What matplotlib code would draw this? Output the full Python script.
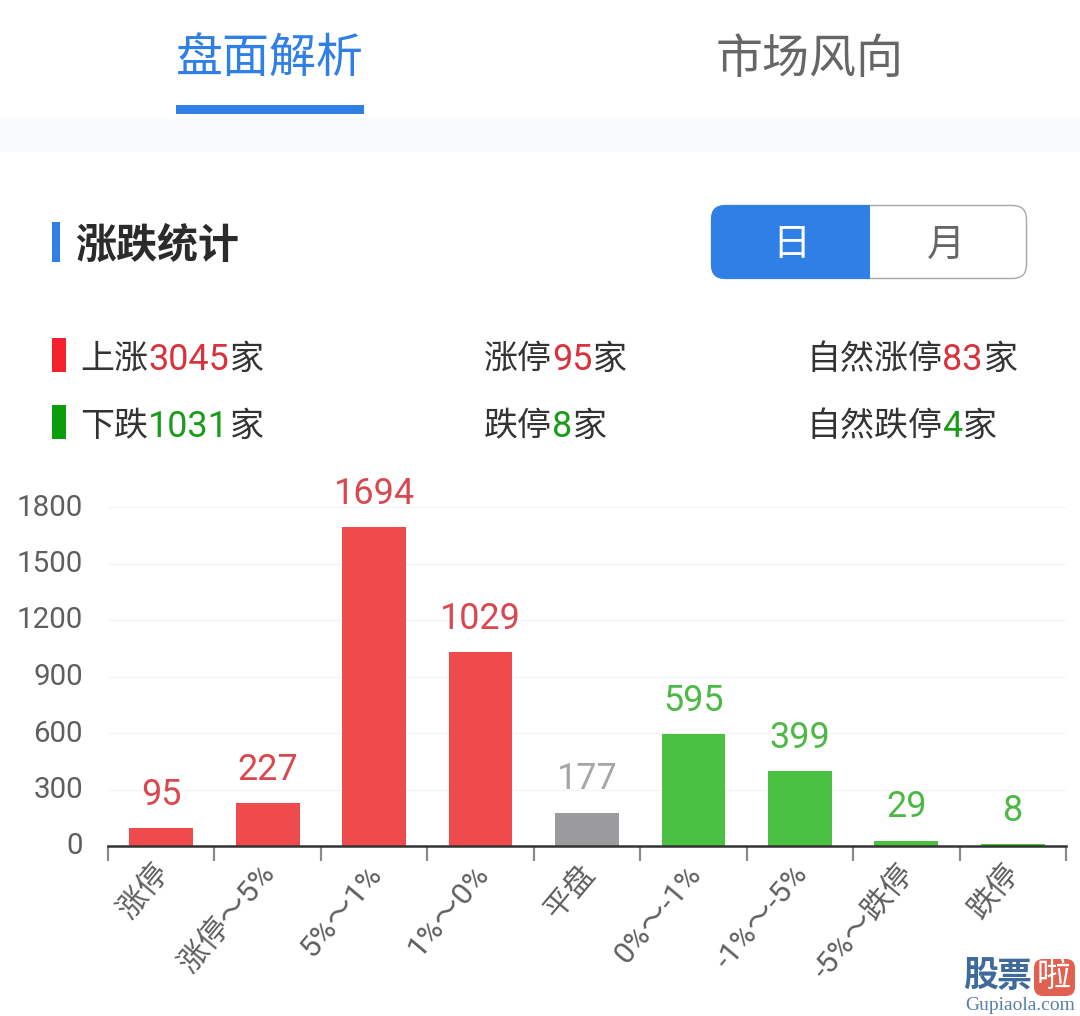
import numpy as np
from matplotlib import pyplot as plt
from matplotlib.patches import FancyBboxPatch, Rectangle, PathPatch
from matplotlib.path import Path
from matplotlib.transforms import ScaledTranslation

plt.rcParams['font.family'] = ['Roboto', 'Noto Sans CJK SC', 'DejaVu Sans']

# chart data
categories = ['涨停', '涨停～5%', '5%～1%', '1%～0%', '平盘', '0%～-1%', '-1%～-5%', '-5%～跌停', '跌停']
values = [95, 227, 1694, 1029, 177, 595, 399, 29, 8]
yticks = [0, 300, 600, 900, 1200, 1500, 1800]

# page texts
tabs = ['盘面解析', '市场风向']
title = '涨跌统计'
toggle = ['日', '月']
up_rows = [('上涨', '3045'), ('涨停', '95'), ('自然涨停', '83')]
down_rows = [('下跌', '1031'), ('跌停', '8'), ('自然跌停', '4')]
unit = '家'

# colours
BLUE = '#2f7fe6'
RED = '#ef4a4c'
GREEN = '#4bc142'
GREY = '#9b9a9d'
LABEL = '#5f5f5f'
bar_colors = [RED] * 4 + [GREY] + [GREEN] * 4
text_colors = ['#d9474f'] * 4 + ['#a6a6a6'] + ['#4cb944'] * 4

W, H = 1080, 1016
fig = plt.figure(figsize=(W / 100, H / 100), dpi=100, facecolor='white')

# full page layer in pixel coordinates
page = fig.add_axes([0, 0, 1, 1])
page.set_xlim(0, W)
page.set_ylim(H, 0)
page.axis('off')


def px(size):
    return size * 72 / 100


def rect(x0, y0, x1, y1, color):
    page.add_patch(Rectangle((x0, y0), x1 - x0, y1 - y0, facecolor=color, edgecolor='none'))


def pieces(x, y, parts, size):
    """Draw coloured text runs one after another, starting at x"""
    renderer = fig.canvas.get_renderer()
    for s, color in parts:
        digits = s.isdigit()
        t = page.text(x, y, s, color=color, fontsize=px(size + 2 if digits else size),
                      ha='left', va='center')
        box = t.get_window_extent(renderer)
        # CJK runs have to advance by the full em, digits by their own width
        x += box.width + 1 if digits else size * len(s)


# tabs
page.text(270, 60, tabs[0], color=BLUE, fontsize=px(47), ha='center', va='center')
page.text(810, 60, tabs[1], color='#666666', fontsize=px(47), ha='center', va='center')
rect(176, 105, 364, 114, BLUE)
rect(0, 118, W, 152, '#f8fbfe')

# section title
rect(52, 222, 60, 262, BLUE)
page.text(75, 246, title, color='#2b2b2b', fontsize=px(41), fontweight='bold', ha='left', va='center')

# day / month toggle
page.add_patch(FancyBboxPatch((711.5, 205.5), 315, 73, boxstyle='round,pad=0,rounding_size=14',
                              facecolor='white', edgecolor='#a8a8a8', linewidth=1))
r = 14
left_shape = Path([(870, 205), (711 + r, 205), (711, 205), (711, 205 + r), (711, 279 - r),
                   (711, 279), (711 + r, 279), (870, 279), (870, 205)],
                  [Path.MOVETO, Path.LINETO, Path.CURVE3, Path.CURVE3, Path.LINETO,
                   Path.CURVE3, Path.CURVE3, Path.LINETO, Path.CLOSEPOLY])
page.add_patch(PathPatch(left_shape, facecolor=BLUE, edgecolor='none'))
page.text(791, 245, toggle[0], color='white', fontsize=px(38), ha='center', va='center')
page.text(946, 245, toggle[1], color='#666666', fontsize=px(38), ha='center', va='center')

# summary rows
rect(52, 338, 66, 372, '#f5222d')
rect(52, 405, 66, 439, '#0a9e0a')
column_x = [80, 484, 806]
for rows, y, color in [(up_rows, 360, '#d8333c'), (down_rows, 427, '#1a9c1a')]:
    for (name, count), x in zip(rows, column_x):
        pieces(x, y, [(name, '#333333'), (count, color), (unit, '#333333')], 34)

# bar chart, placed so that 0 sits at y=846 and 1800 at y=507
left, right, top, bottom = 108, 1066, 507, 846
ax = fig.add_axes([left / W, 1 - bottom / H, (right - left) / W, (bottom - top) / H])
ax.patch.set_alpha(0)
centers = np.arange(len(categories)) + 0.5
bars = ax.bar(centers, values, width=0.6, color=bar_colors, zorder=2)
ax.set_xlim(0, len(categories))
ax.set_ylim(0, 1800)

for bar, value, color in zip(bars, values, text_colors):
    ax.annotate(str(value), (bar.get_x() + bar.get_width() / 2, value), xytext=(0, 11),
                textcoords='offset points', ha='center', va='bottom', color=color,
                fontsize=px(36), annotation_clip=False)

for side in ['top', 'left', 'right']:
    ax.spines[side].set_visible(False)
ax.spines['bottom'].set_color('#333333')
ax.spines['bottom'].set_linewidth(1.8)
ax.spines['bottom'].set_zorder(3)

ax.set_yticks(yticks)
ax.tick_params(axis='y', length=0, pad=px(25), labelsize=px(29.5), labelcolor=LABEL)
ax.grid(axis='y', color='#f5f5f5', linewidth=1, zorder=0)
ax.grid(axis='x', visible=False)
for label in ax.get_yticklabels():
    label.set_transform(label.get_transform() + ScaledTranslation(0, 2.5 / 100, fig.dpi_scale_trans))

ax.set_xticks(centers, categories, rotation=50, ha='right', rotation_mode='anchor')
ax.set_xticks(np.arange(len(categories) + 1), minor=True)
ax.tick_params(axis='x', which='major', length=0, pad=px(24), labelsize=px(30.5), labelcolor=LABEL)
ax.tick_params(axis='x', which='minor', length=px(15), width=1.6, color='#8a8a8a')
for label in ax.get_xticklabels():
    label.set_transform(label.get_transform() + ScaledTranslation(-8 / 100, 10 / 100, fig.dpi_scale_trans))

# watermark
page.text(981, 977, '股', color='#3f6a9c', fontsize=px(35), fontweight='bold', ha='center', va='center')
page.text(1014, 977, '票', color='#3f6a9c', fontsize=px(35), fontweight='bold', ha='center', va='center')
page.add_patch(FancyBboxPatch((1034, 959), 41, 37, boxstyle='round,pad=0,rounding_size=9',
                              facecolor='#e2604f', edgecolor='none'))
page.text(1054, 977, '啦', color='white', fontsize=px(34), ha='center', va='center')
page.text(1020, 1006, 'Gupiaola.com', color='#5a7fa6', fontsize=px(19.5), family='Liberation Serif',
          ha='center', va='center')

fig.savefig('out.png', dpi=100, facecolor='white')
